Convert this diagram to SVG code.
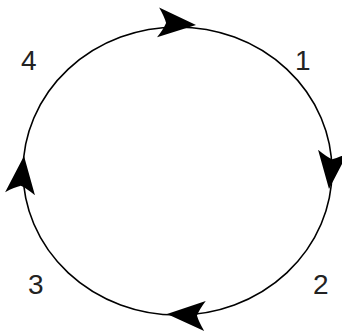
<svg xmlns="http://www.w3.org/2000/svg" xmlns:xlink="http://www.w3.org/1999/xlink" width="342" height="331" viewBox="0 0 342 331">
<style>
.lbl{font-family:"Liberation Sans",Arial,sans-serif;font-size:28px;fill:#222}
.ring{fill:none;stroke:#000;stroke-width:1.6}
.ah{fill:#000}
</style>
<defs>
<path id="arrow" d="M0,0 L-38,-15 Q-32,-6 -30,0 Q-32,6 -38,15 Z"/>
</defs>
<rect width="342" height="331" fill="#fff"/>
<g id="connectors">
<ellipse class="ring" cx="177.5" cy="171" rx="154.5" ry="144"/>
<use class="ah" xlink:href="#arrow" transform="translate(196,25) rotate(4)"/>
<use class="ah" xlink:href="#arrow" transform="translate(329,189) rotate(96)"/>
<use class="ah" xlink:href="#arrow" transform="translate(167,314) rotate(183)"/>
<use class="ah" xlink:href="#arrow" transform="translate(24,156) rotate(-84)"/>
</g>
<g id="labels">
<text class="lbl" x="21" y="70">4</text>
<text class="lbl" x="295" y="70">1</text>
<text class="lbl" x="28" y="294">3</text>
<text class="lbl" x="313" y="294">2</text>
</g>
</svg>
